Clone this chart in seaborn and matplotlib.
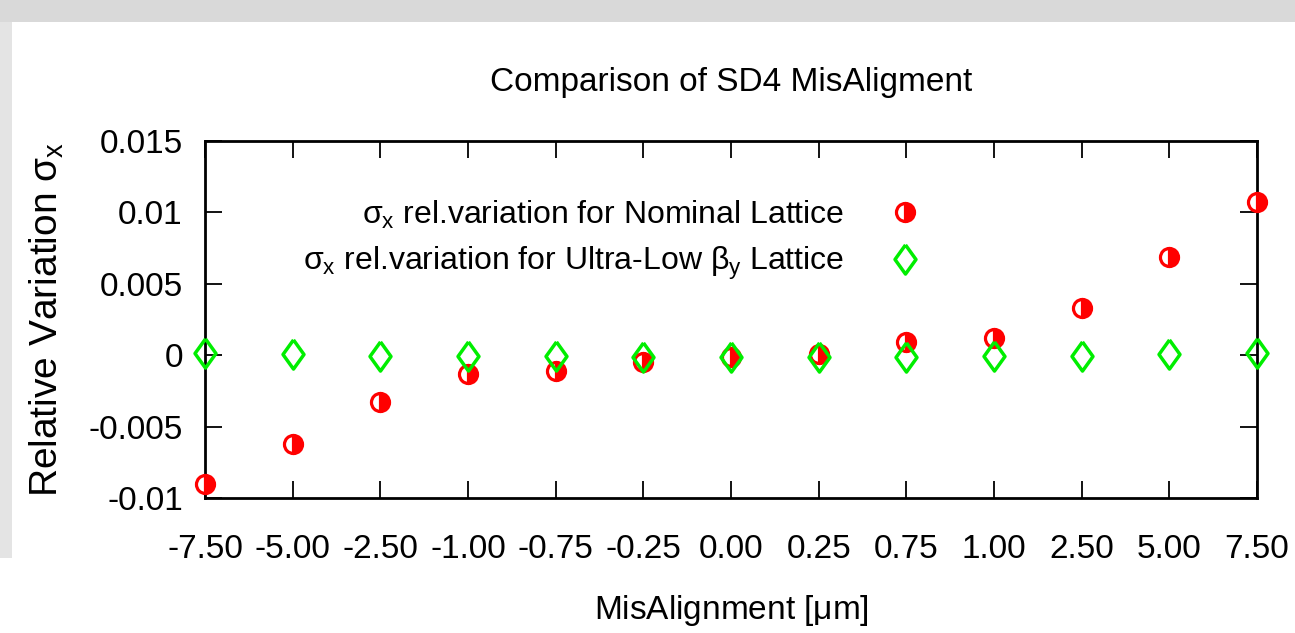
import matplotlib
matplotlib.use("Agg")
import matplotlib.pyplot as plt
from matplotlib.patches import Rectangle
import seaborn as sns

# Misalignment steps (µm) shown as evenly spaced categories
misalignment = ["-7.50", "-5.00", "-2.50", "-1.00", "-0.75", "-0.25",
                "0.00", "0.25", "0.75", "1.00", "2.50", "5.00", "7.50"]

# Relative variation of sigma_x, nominal lattice
nominal = [-0.0090, -0.0062, -0.0033, -0.0013, -0.0011, -0.0005,
           -0.0001, 0.0001, 0.0009, 0.0012, 0.0033, 0.0069, 0.0107]

# Relative variation of sigma_x, ultra-low beta_y lattice
ultra_low = [0.00014, 0.00007, -0.00007, -0.00007, -0.00007, -0.00014,
             -0.00014, -0.00014, -0.00014, -0.00007, -0.00007, 0.00007, 0.00014]

y_ticks = [-0.01, -0.005, 0, 0.005, 0.01, 0.015]
y_tick_labels = ["-0.01", "-0.005", "0", "0.005", "0.01", "0.015"]

sns.set_theme(style="white")
families = ["Liberation Sans Narrow", "Liberation Sans", "DejaVu Sans"]
plt.rcParams["font.family"] = families
plt.rcParams["text.color"] = "black"
plt.rcParams["axes.labelcolor"] = "black"
plt.rcParams["mathtext.fontset"] = "custom"
plt.rcParams["mathtext.rm"] = "Liberation Sans"
plt.rcParams["mathtext.it"] = "Liberation Sans"
plt.rcParams["mathtext.bf"] = "Liberation Sans"

fig = plt.figure(figsize=(12.95, 6.33), dpi=100)
fig.patch.set_facecolor("white")

# light grey window edges
fig.add_artist(Rectangle((0, 1 - 22 / 633), 1, 22 / 633, transform=fig.transFigure,
                         facecolor="#d9d9d9", edgecolor="none", zorder=0))
fig.add_artist(Rectangle((0, 1 - 558 / 633), 12 / 1295, (558 - 22) / 633,
                         transform=fig.transFigure, facecolor="#e4e4e4",
                         edgecolor="none", zorder=0))

ax = fig.add_axes([205 / 1295, 1 - 498 / 633, (1257 - 205) / 1295, (498 - 141) / 633])

pos = list(range(len(misalignment)))

# open diamond, a little wider than matplotlib's thin diamond
diamond = [(0.0, 1.0), (0.72, 0.0), (0.0, -1.0), (-0.72, 0.0), (0.0, 1.0)]

sns.lineplot(x=pos, y=nominal, ax=ax, linestyle="", marker="o", markersize=13,
             fillstyle="right", color="#ff0000", markerfacecolor="#ff0000",
             markerfacecoloralt="white", markeredgecolor="#ff0000",
             markeredgewidth=2.3, label=r"$\sigma_x$ rel.variation for Nominal Lattice",
             clip_on=False, zorder=3)
sns.lineplot(x=pos, y=ultra_low, ax=ax, linestyle="", marker=diamond, markersize=21,
             markerfacecolor="none", color="#00ee00", markeredgecolor="#00ee00",
             markeredgewidth=2.5,
             label=r"$\sigma_x$ rel.variation for Ultra-Low $\beta_y$ Lattice",
             clip_on=False, zorder=4)

ax.set_xlim(0, len(misalignment) - 1)
ax.set_ylim(-0.01, 0.015)
ax.set_xticks(pos)
ax.set_xticklabels(misalignment)
ax.set_yticks(y_ticks)
ax.set_yticklabels(y_tick_labels)

for s in ax.spines.values():
    s.set_visible(True)
    s.set_color("black")
    s.set_linewidth(2.0)

ax.tick_params(axis="both", which="both", direction="in", length=12, width=1.3,
               color="black", top=True, right=True, bottom=True, left=True,
               labelsize=24, labelcolor="black")
ax.tick_params(axis="x", pad=26)
ax.tick_params(axis="y", pad=16)

ax.set_title("Comparison of SD4 MisAligment", fontsize=24, pad=36, color="black")
ax.set_xlabel(r"MisAlignment [$\mu$m]", fontsize=24, labelpad=20, color="black")
ax.set_ylabel(r"Relative Variation $\sigma_x$", fontsize=28, labelpad=16, color="black")

leg = ax.legend(loc="upper right", bbox_to_anchor=(0.6925, 0.875), frameon=False,
                markerfirst=False, fontsize=23, handlelength=1.0, handletextpad=1.4,
                labelspacing=0.45, borderaxespad=0)

fig.savefig("out.png", dpi=100)
